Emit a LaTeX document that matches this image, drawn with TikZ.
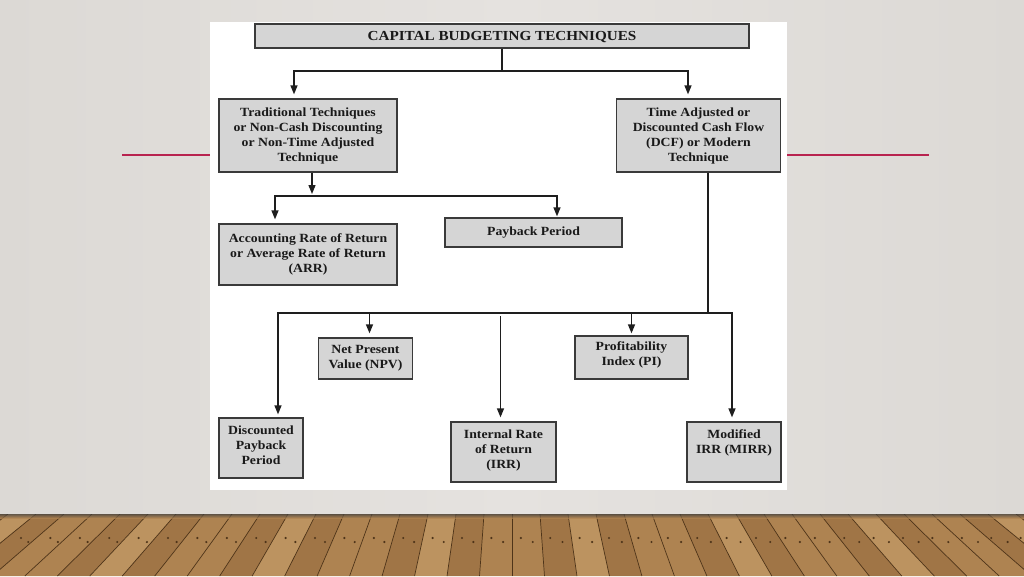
\documentclass[tikz,border=0pt]{standalone}
\usepackage{fontspec}
\setmainfont{Liberation Serif}[FakeStretch=1.1]
\usetikzlibrary{arrows.meta}
\definecolor{bgmid}{HTML}{E5E2DF}
\definecolor{bgedge}{HTML}{DCD9D5}
\definecolor{redline}{HTML}{B8234F}
\definecolor{boxfill}{HTML}{D5D5D5}
\definecolor{boxline}{HTML}{3A3A3A}
\definecolor{conn}{HTML}{1E1E1E}
\definecolor{wood0}{HTML}{AE8351}
\definecolor{wood1}{HTML}{BC9360}
\definecolor{wood2}{HTML}{A07546}
\definecolor{wood3}{HTML}{C29A66}
\definecolor{wood4}{HTML}{A97F4D}
\definecolor{plankline}{HTML}{4E3419}
\tikzset{
  box/.style={draw=boxline, line width=1.3pt, fill=boxfill, align=center,
    inner sep=0pt, font=\bfseries\fontsize{12.5}{15}\selectfont, text=black!90},
  line/.style={draw=conn, line width=1.3pt},
  arr/.style={line, -{Triangle[length=9pt,width=7pt]}, shorten >=4pt},
}
\begin{document}
\begin{tikzpicture}[x=1pt,y=-1pt]
\useasboundingbox (0,0) rectangle (1024,576);
% background
\shade[left color=bgedge, right color=bgedge, middle color=bgmid] (0,0) rectangle (1024,514);
% floor
\begin{scope}
\clip (0,514) rectangle (1024,576);
\fill[wood0] (0,514) rectangle (1024,576);
\foreach \i in {-20,...,19}{
  \pgfmathtruncatemacro{\k}{mod(\i+60+\i*\i,5)}
  \pgfmathsetmacro{\xa}{512+\i*28}
  \pgfmathsetmacro{\xb}{512+(\i+1)*28}
  \pgfmathsetmacro{\xc}{512+(\i+1)*28*1.16}
  \pgfmathsetmacro{\xd}{512+\i*28*1.16}
  \fill[wood\k] (\xa,514) -- (\xb,514) -- (\xc,576) -- (\xd,576) -- cycle;
  \draw[plankline, line width=0.7pt] (\xa,514) -- (\xd,576);
  \pgfmathsetmacro{\xe}{512+(\i+0.3)*28*1.05}
  \pgfmathsetmacro{\xf}{512+(\i+0.7)*28*1.06}
  \fill[plankline] (\xe,538) circle (1.2);
  \fill[plankline] (\xf,542) circle (1.2);
}
\shade[top color=black!75, bottom color=wood0, opacity=0.7] (0,514) rectangle (1024,518);
\end{scope}
% red lines
\draw[redline, line width=2.2pt] (122,155) -- (210,155);
\draw[redline, line width=2.2pt] (787,155) -- (929,155);
% panel
\fill[white] (210,22) rectangle (787,490);
% nodes
\node[box, minimum width=494, minimum height=24, text height=9.5pt, text depth=0pt, font=\bfseries\fontsize{13.8}{15}\selectfont] (title) at (502,36) {CAPITAL BUDGETING TECHNIQUES};
\node[box, minimum width=178, minimum height=73] (trad) at (308,135.5) {Traditional Techniques\\or Non-Cash Discounting\\or Non-Time Adjusted\\Technique};
\node[box, minimum width=164, minimum height=73] (time) at (698.5,135.5) {Time Adjusted or\\Discounted Cash Flow\\(DCF) or Modern\\Technique};
\node[box, minimum width=178, minimum height=61] (arr) at (308,254.5) {Accounting Rate of Return\\or Average Rate of Return\\(ARR)};
\node[box, minimum width=177, minimum height=29] (pay) at (533.5,232.5) {Payback Period};
\node[box, minimum width=94, minimum height=41] (npv) at (365.5,358.5) {Net Present\\Value (NPV)};
\node[box, minimum width=113, minimum height=43] (pi) at (631.5,357.5) {Profitability\\Index (PI)\\[-7pt]~};
\node[box, minimum width=84, minimum height=60] (dpp) at (261,448) {Discounted\\Payback\\Period\\[-9pt]~};
\node[box, minimum width=105, minimum height=60] (irr) at (503.5,452) {Internal Rate\\of Return\\(IRR)\\[-9pt]~};
\node[box, minimum width=94, minimum height=60] (mirr) at (734,452) {Modified\\IRR (MIRR)\\[6pt]~};
% connectors
\coordinate (j0) at (502,71);
\draw[line] (title.south) -- (j0);
\draw[arr] (j0) -| ([xshift=-14pt]trad.north);
\draw[arr] (j0) -| ([xshift=-10.5pt]time.north);
\coordinate (j1) at (312,196);
\draw[arr, shorten >=2pt] (trad.south -| j1) -- (j1);
\draw[arr] (j1) -| ([xshift=-33pt]arr.north);
\draw[arr, shorten >=1pt] (j1) -| ([xshift=23.5pt]pay.north);
\coordinate (j2) at (708,313);
\draw[line] (time.south -| j2) -- (j2);
\draw[arr, shorten >=3pt] (j2) -| ([xshift=17pt]dpp.north);
\draw[arr] (j2) -| ([xshift=4pt]npv.north);
\draw[arr, shorten >=2pt] (j2) -| (pi.north);
\draw[arr] (j2) -| ([xshift=-2pt]mirr.north);
\coordinate (irrtop) at (500.5,316);
\draw[arr] (irrtop) -- (irrtop |- irr.north);
\end{tikzpicture}
\end{document}
